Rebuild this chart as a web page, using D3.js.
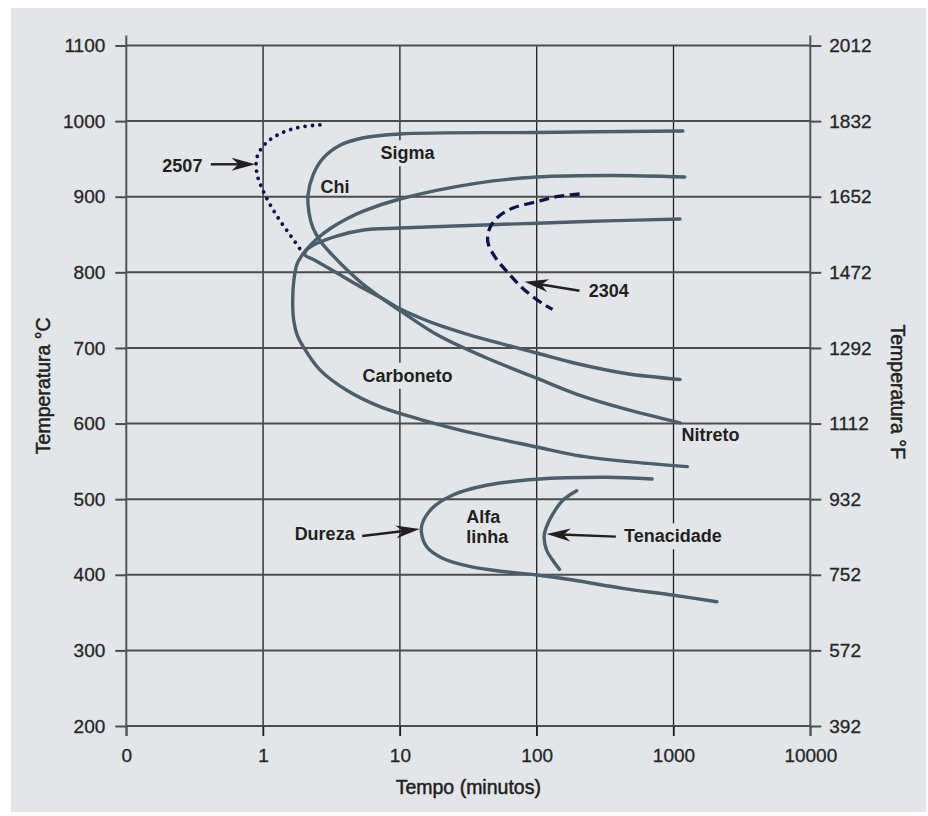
<!DOCTYPE html>
<html>
<head>
<meta charset="utf-8">
<script src="https://cdn.jsdelivr.net/npm/d3@7"></script>
<style>
  html, body { margin: 0; padding: 0; background: #ffffff; }
  svg { display: block; }
</style>
</head>
<body>
<svg id="chart" width="928" height="816"></svg>
<script>
// ---- Axis ticks -------------------------------------------------------
const timeTicks = [0, 1, 10, 100, 1000, 10000];            // minutes
const celsiusTicks = [200, 300, 400, 500, 600, 700, 800, 900, 1000, 1100];
const fahrenheitTicks = [392, 572, 752, 932, 1112, 1292, 1472, 1652, 1832, 2012];

// ---- Precipitation curves: [time (min), temperature (°C)] -------------
const curveSigma = [
  [1170, 987], [100, 985], [10, 983], [5.43, 978], [3.65, 968], [2.75, 951],
  [2.32, 929], [2.13, 902], [2.16, 880], [2.31, 859], [2.65, 840], [3.24, 822],
  [4.12, 803], [5.31, 785], [7.2, 767], [10.1, 749], [19.3, 716], [41.4, 688],
  [100, 660], [195, 639], [448, 619], [1115, 601]
];
const curveCarbide = [
  [1209, 926], [359, 928], [100, 926], [36.8, 918], [10, 897], [5.4, 881],
  [4.0, 870], [3.1, 858], [2.5, 845], [2.05, 829], [1.78, 812], [1.68, 790],
  [1.645, 763], [1.673, 737], [1.776, 717], [1.96, 702], [2.60, 671], [4.09, 644],
  [7.22, 622], [14.4, 605], [34.7, 587], [100, 569], [195, 558], [448, 550],
  [1263, 543]
];
const curveChi = [
  [1115, 870.5], [321, 868], [100, 865], [46.6, 863], [10, 858.6], [5.43, 856],
  [3.45, 848], [2.46, 838], [2.08, 829.5], [2.02, 823], [2.39, 816], [3.47, 799],
  [5.13, 781], [7.2, 767], [10.1, 751.5], [14.4, 739], [20.5, 728.4], [29.1, 719.7],
  [41.4, 711.8], [100, 693.3], [195, 679.4], [448, 666.2], [1115, 658.3]
];
const curve2507 = [
  [2.60, 995], [1.85, 992], [1.394, 985], [1.113, 975], [0.993, 966], [0.913, 955],
  [0.889, 942], [0.913, 926.5], [0.993, 909], [1.113, 891], [1.321, 869],
  [1.611, 847], [1.91, 828]
];
const curve2304 = [
  [206, 903.6], [139.5, 900], [100, 893.4], [66.3, 884.7], [52.4, 873.6],
  [45.3, 858.2], [43.9, 840.5], [49.4, 820.7], [60.8, 800.8], [76.8, 781],
  [97, 765.7], [114.8, 756.8], [130.5, 751]
];
const curveHardness = [
  [698, 526.7], [321, 528.9], [100, 526.3], [43.9, 518.7], [24.4, 505.5],
  [17.2, 487.9], [14.6, 468.1], [14.4, 454.9], [15.7, 437.1], [20.5, 421.8],
  [32.8, 410.7], [59, 404], [100, 399.7], [184, 393.1], [424, 382.1],
  [974, 373.2], [2075, 364.4]
];
const curveToughness = [
  [196, 511.2], [156, 498.9], [132, 481.3], [118, 463.6], [113.3, 450.6],
  [118, 432.8], [130.5, 419.5], [146.7, 407.2]
];

// ---- Annotations (time in min, temperature in °C) ---------------------
const phaseLabels = [
  { text: "Sigma",     t: 7.2,   c: 949.5 },
  { text: "Chi",       t: 2.63,  c: 904.5 },
  { text: "Carboneto", t: 5.33,  c: 655.3 },
  { text: "Nitreto",   t: 1146,  c: 576.9 },
  { text: "Alfa",      t: 30.55, c: 468.9 },
  { text: "linha",     t: 30.55, c: 441.6 }
];
const pointerLabels = [
  { text: "2507",       anchor: "end",   t: 0.36, c: 933.1, from: [0.4146, 942.9], to: [0.879, 942.9] },
  { text: "2304",       anchor: "start", t: 240,  c: 767.0, from: [205.6, 775.7],   to: [81.4, 787.6] },
  { text: "Dureza",     anchor: "start", t: 1.70, c: 446.0, from: [5.30, 451.3],    to: [13.98, 460.5] },
  { text: "Tenacidade", anchor: "start", t: 435,  c: 442.9, from: [378.8, 450.4],   to: [118.1, 453.9] }
];

// ---- Layout -----------------------------------------------------------
const plot = { left: 126.3, right: 810.3, top: 45.5, bottom: 726 };
const COLORS = {
  panel: "#e3e6e9",
  hgrid: "#4d4d4d",
  vgrid: "#1e1e1e",
  axis: "#555555",
  curve: "#4b5e6a",
  steel: "#12124a",
  text: "#231f20",
  tick: "#262626"
};
const FONT = "'Liberation Sans', Arial, Helvetica, sans-serif";

const svg = d3.select("#chart");

// time axis: "0" at the origin, then one equal step per decade
const decade = t => (t <= 0 ? 0 : 1 + Math.log10(t));
const xDec = d3.scaleLinear().domain([0, timeTicks.length - 1]).range([plot.left, plot.right]);
const x = t => xDec(decade(t));
const yC = d3.scaleLinear().domain([200, 1100]).range([plot.bottom, plot.top]);
const yF = d3.scaleLinear().domain([392, 2012]).range([plot.bottom, plot.top]);

// layers
const gPanel = svg.append("g");
const gVGrid = svg.append("g");
const gLabelBg = svg.append("g");
const gHGrid = svg.append("g");
const gAxes = svg.append("g");
const gCurves = svg.append("g");
const gArrows = svg.append("g");
const gText = svg.append("g");

gPanel.append("rect")
  .attr("x", 11).attr("y", 8)
  .attr("width", 915).attr("height", 804)
  .attr("fill", COLORS.panel);

// vertical grid at interior decades
gVGrid.selectAll("line")
  .data(timeTicks.slice(1, -1))
  .join("line")
  .attr("x1", d => x(d)).attr("x2", d => x(d))
  .attr("y1", yC(1100)).attr("y2", yC(200) + 10)
  .attr("stroke", COLORS.vgrid)
  .attr("stroke-width", 1.3);

// horizontal grid at each temperature tick
gHGrid.selectAll("line")
  .data(celsiusTicks)
  .join("line")
  .attr("x1", plot.left).attr("x2", plot.right)
  .attr("y1", d => yC(d)).attr("y2", d => yC(d))
  .attr("stroke", COLORS.hgrid)
  .attr("stroke-width", 2);

// left axis (°C)
const axisL = gAxes.append("g")
  .attr("transform", `translate(${plot.left},0)`)
  .call(d3.axisLeft(yC).tickValues(celsiusTicks).tickSize(11).tickPadding(10).tickFormat(d3.format("d")));

// right axis (°F)
const axisR = gAxes.append("g")
  .attr("transform", `translate(${plot.right},0)`)
  .call(d3.axisRight(yF).tickValues(fahrenheitTicks).tickSize(11).tickPadding(8).tickFormat(d3.format("d")));

// bottom axis (time)
const axisB = gAxes.append("g")
  .attr("transform", `translate(0,${plot.bottom})`)
  .call(d3.axisBottom(xDec)
    .tickValues(timeTicks.map(decade))
    .tickSize(10).tickPadding(12.5)
    .tickFormat((d, i) => String(timeTicks[i])));

[axisL, axisR, axisB].forEach(g => {
  g.select(".domain").remove();
  g.selectAll(".tick text")
    .attr("fill", COLORS.tick)
    .attr("stroke", COLORS.tick)
    .attr("stroke-width", 0.3)
    .style("font-family", FONT)
    .style("font-size", "19px");
});
axisL.selectAll(".tick line").attr("stroke", COLORS.hgrid).attr("stroke-width", 2);
axisR.selectAll(".tick line").attr("stroke", COLORS.hgrid).attr("stroke-width", 2);
axisB.selectAll(".tick line").attr("stroke", COLORS.vgrid).attr("stroke-width", 1.3);

// the two vertical axis lines, a little longer than the grid
[plot.left, plot.right].forEach(px => {
  gAxes.append("line")
    .attr("x1", px).attr("x2", px)
    .attr("y1", yC(1100) - 10).attr("y2", yC(200) + 10)
    .attr("stroke", COLORS.axis)
    .attr("stroke-width", 2);
});

// axis titles
const titleStyle = sel => sel
  .attr("text-anchor", "middle")
  .attr("fill", COLORS.text)
  .attr("stroke", COLORS.text)
  .attr("stroke-width", 0.5)
  .style("font-family", FONT)
  .style("font-size", "19.5px");

gAxes.append("text")
  .attr("x", (plot.left + plot.right) / 2).attr("y", 794)
  .call(titleStyle)
  .text("Tempo (minutos)");
gAxes.append("text")
  .attr("transform", `translate(49.5,${(plot.top + plot.bottom) / 2}) rotate(-90)`)
  .call(titleStyle)
  .text("Temperatura °C");
gAxes.append("text")
  .attr("transform", `translate(891,${(plot.top + plot.bottom) / 2 + 6}) rotate(90)`)
  .call(titleStyle)
  .text("Temperatura °F");

// ---- curves -----------------------------------------------------------
const line = d3.line()
  .x(d => x(d[0]))
  .y(d => yC(d[1]))
  .curve(d3.curveCatmullRom.alpha(0.5));

[curveSigma, curveCarbide, curveChi, curveHardness, curveToughness].forEach(c => {
  gCurves.append("path")
    .attr("d", line(c))
    .attr("fill", "none")
    .attr("stroke", COLORS.curve)
    .attr("stroke-width", 3.4)
    .attr("stroke-linecap", "round");
});

gCurves.append("path")
  .attr("d", line(curve2507))
  .attr("fill", "none")
  .attr("stroke", COLORS.steel)
  .attr("stroke-width", 3.8)
  .attr("stroke-linecap", "round")
  .attr("stroke-dasharray", "0.01 7.4");

gCurves.append("path")
  .attr("d", line(curve2304))
  .attr("fill", "none")
  .attr("stroke", COLORS.steel)
  .attr("stroke-width", 3.3)
  .attr("stroke-dasharray", "10 5.5");

// ---- pointer arrows ---------------------------------------------------
pointerLabels.forEach(p => {
  const x0 = x(p.from[0]), y0 = yC(p.from[1]);
  const x1 = x(p.to[0]), y1 = yC(p.to[1]);
  const ang = Math.atan2(y1 - y0, x1 - x0);
  const back = 14;
  gArrows.append("line")
    .attr("x1", x0).attr("y1", y0)
    .attr("x2", x1 - back * Math.cos(ang)).attr("y2", y1 - back * Math.sin(ang))
    .attr("stroke", COLORS.text)
    .attr("stroke-width", 2.4);
  gArrows.append("path")
    .attr("d", "M0,0 L-24,-6.5 L-17,0 L-24,6.5 Z")
    .attr("transform", `translate(${x1},${y1}) rotate(${ang * 180 / Math.PI})`)
    .attr("fill", COLORS.text);
});

// ---- labels with a knock-out background --------------------------------
const allLabels = phaseLabels.map(d => ({ ...d, anchor: "start" })).concat(pointerLabels);
allLabels.forEach(d => {
  const t = gText.append("text")
    .attr("x", x(d.t)).attr("y", yC(d.c))
    .attr("text-anchor", d.anchor)
    .attr("fill", COLORS.text)
    .style("font-family", FONT)
    .style("font-size", "18px")
    .style("font-weight", "bold")
    .text(d.text);
  const b = t.node().getBBox();
  gLabelBg.append("rect")
    .attr("x", b.x - 4).attr("y", b.y - 3)
    .attr("width", b.width + 8).attr("height", b.height + 6)
    .attr("fill", COLORS.panel);
});
</script>
</body>
</html>
